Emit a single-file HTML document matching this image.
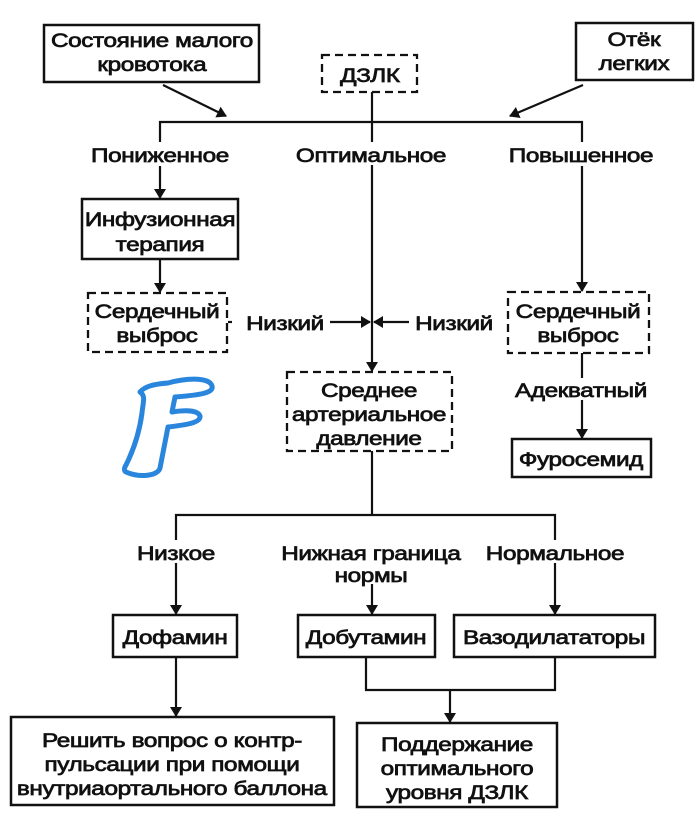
<!DOCTYPE html>
<html><head><meta charset="utf-8"><style>
html,body{margin:0;padding:0;background:#fff;}
svg{display:block;}
text{font-family:"Liberation Sans",sans-serif;font-size:19px;fill:#111;text-anchor:middle;stroke:#111;stroke-width:0.7px;letter-spacing:-0.3px;transform-box:fill-box;transform-origin:center;transform:scaleX(1.28);}
</style></head><body>
<svg width="700" height="816" viewBox="0 0 700 816" xmlns="http://www.w3.org/2000/svg">
<defs><marker id="a" markerWidth="10" markerHeight="12" refX="9" refY="6" orient="auto" markerUnits="userSpaceOnUse"><path d="M0,0 L10,6 L0,12 Z" fill="#111"/></marker></defs>
<g fill="none" stroke="#111" stroke-width="2.5">
<rect x="44" y="25" width="215" height="57"/>
<rect x="576" y="23" width="117" height="57"/>
<rect x="82" y="199" width="156" height="60"/>
<rect x="512" y="439" width="139" height="38"/>
<rect x="113" y="615" width="124" height="42"/>
<rect x="298" y="615" width="137" height="42"/>
<rect x="454" y="615" width="201" height="42"/>
<rect x="11" y="717" width="323" height="88"/>
<rect x="357" y="723" width="200" height="84"/>
</g>
<g fill="none" stroke="#111" stroke-width="2.3" stroke-dasharray="8,5">
<rect x="322" y="55" width="95" height="37"/>
<rect x="88" y="293" width="139" height="59"/>
<rect x="508" y="292" width="141" height="61"/>
<rect x="287" y="372" width="165" height="79"/>
</g>
<g fill="none" stroke="#111" stroke-width="2.2">
<line x1="163" y1="85" x2="226" y2="116" marker-end="url(#a)"/>
<line x1="583" y1="85" x2="510" y2="116" marker-end="url(#a)"/>
<polyline points="160,142 160,122 582,122 582,142"/>
<line x1="372" y1="92" x2="372" y2="142"/>
<line x1="372" y1="165" x2="372" y2="371" marker-end="url(#a)"/>
<line x1="160" y1="166" x2="160" y2="198" marker-end="url(#a)"/>
<line x1="160" y1="259" x2="160" y2="292" marker-end="url(#a)"/>
<line x1="582" y1="166" x2="582" y2="291" marker-end="url(#a)"/>
<line x1="330" y1="322" x2="370" y2="322" marker-end="url(#a)"/>
<line x1="409" y1="322" x2="374" y2="322" marker-end="url(#a)"/>
<line x1="232" y1="322" x2="228" y2="322"/>
<line x1="582" y1="353" x2="582" y2="378"/>
<line x1="582" y1="400" x2="582" y2="438" marker-end="url(#a)"/>
<line x1="372" y1="451" x2="372" y2="515"/>
<polyline points="176,540 176,515 555,515 555,540"/>
<line x1="176" y1="563" x2="176" y2="614" marker-end="url(#a)"/>
<line x1="372" y1="584" x2="372" y2="614" marker-end="url(#a)"/>
<line x1="555" y1="563" x2="555" y2="614" marker-end="url(#a)"/>
<line x1="176" y1="657" x2="176" y2="716" marker-end="url(#a)"/>
<polyline points="366,657 366,690 555,690 555,657"/>
<line x1="450" y1="690" x2="450" y2="722" marker-end="url(#a)"/>
</g>
<path d="M168,383 C190,377 210,378 212,386 C214,393 200,395 175,397 L172,412 C185,410 198,410 200,416 C201,423 185,425 168,427 L160,468 C158,476 140,478 126,472 C124,471 124,468 126,465 C135,447 140,428 142,413 C143,402 146,396 140,392 C145,386 155,384 168,383 Z" fill="#fff" stroke="#2a86dc" stroke-width="5" stroke-linejoin="round"/>
<g transform="translate(0,2)">
<text x="152" y="45">Состояние малого</text>
<text x="152" y="69">кровотока</text>
<text x="370" y="80">ДЗЛК</text>
<text x="634" y="44">Отёк</text>
<text x="634" y="68">легких</text>
<text x="160" y="160">Пониженное</text>
<text x="371" y="160">Оптимальное</text>
<text x="581" y="160">Повышенное</text>
<text x="160" y="224">Инфузионная</text>
<text x="160" y="249">терапия</text>
<text x="157" y="316">Сердечный</text>
<text x="157" y="340">выброс</text>
<text x="285" y="328">Низкий</text>
<text x="454" y="328">Низкий</text>
<text x="578" y="316">Сердечный</text>
<text x="578" y="340">выброс</text>
<text x="369" y="395">Среднее</text>
<text x="369" y="419">артериальное</text>
<text x="369" y="443">давление</text>
<text x="581" y="395">Адекватный</text>
<text x="581" y="464">Фуросемид</text>
<text x="176" y="558">Низкое</text>
<text x="371" y="558">Нижная граница</text>
<text x="371" y="580">нормы</text>
<text x="555" y="558">Нормальное</text>
<text x="175" y="642">Дофамин</text>
<text x="366" y="642">Добутамин</text>
<text x="554" y="642">Вазодилататоры</text>
<text x="172" y="745">Решить вопрос  о контр-</text>
<text x="172" y="769">пульсации при помощи</text>
<text x="172" y="793">внутриаортального баллона</text>
<text x="457" y="749">Поддержание</text>
<text x="457" y="773">оптимального</text>
<text x="457" y="797">уровня ДЗЛК</text>
</g>
</svg>
</body></html>
